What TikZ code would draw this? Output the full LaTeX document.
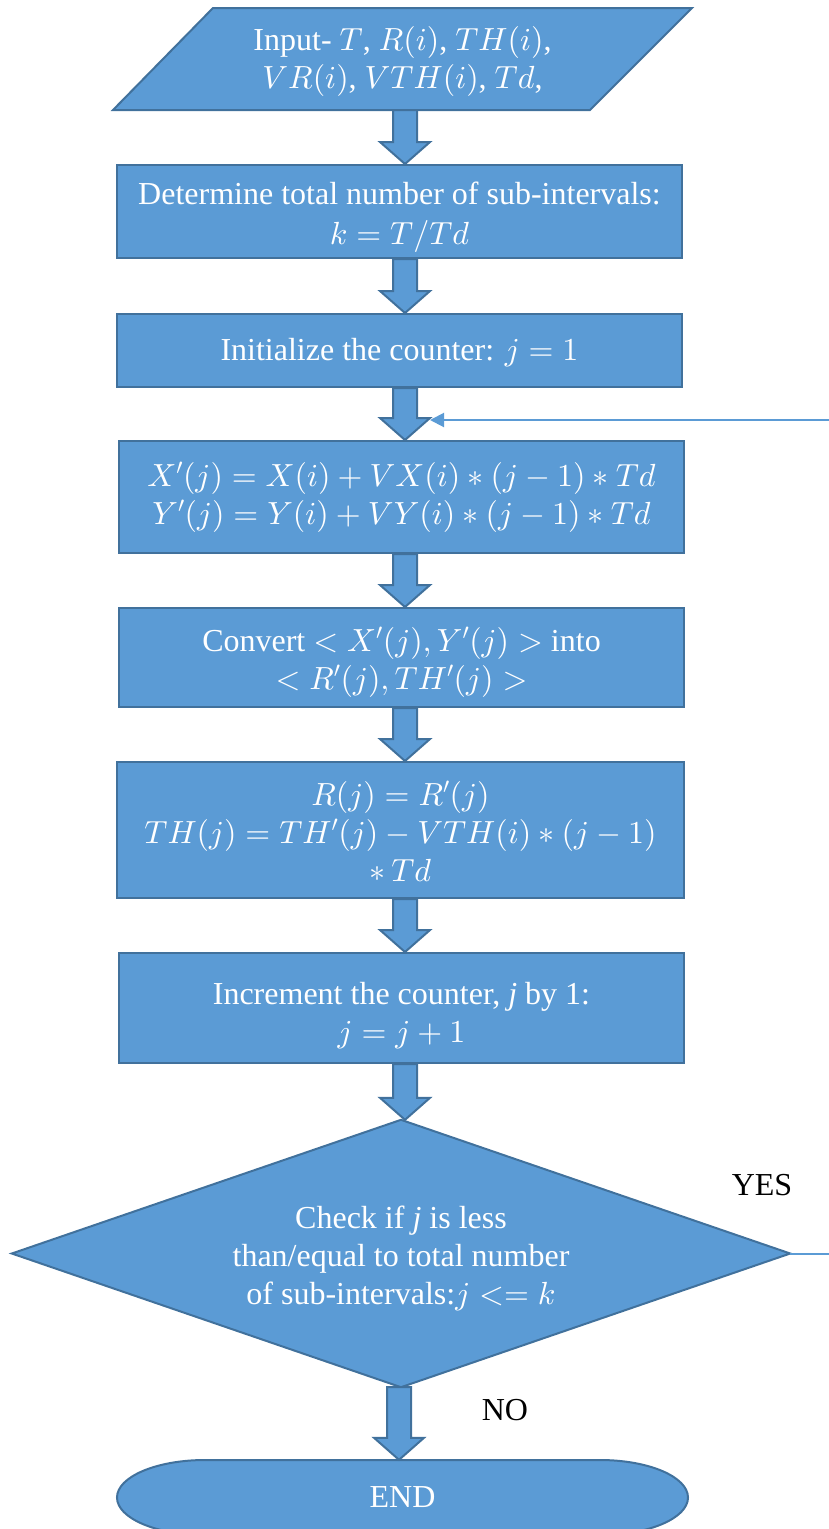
\documentclass[tikz,border=0pt]{standalone}
\usepackage{fontspec}
\setmainfont{Liberation Serif}
\usetikzlibrary{calc,arrows.meta}

% scalable Computer Modern math fonts for the large formula size
\DeclareFontShape{OML}{cmm}{m}{it}{<->cmmi10}{}
\DeclareFontShape{OMS}{cmsy}{m}{n}{<->cmsy10}{}
\DeclareFontShape{OT1}{cmr}{m}{n}{<->cmr10}{}

\definecolor{boxfill}{HTML}{5B9BD5}
\definecolor{boxline}{HTML}{41719C}

\tikzset{
  flowfont/.style={font=\fontsize{32}{38}\selectfont},
  flowbox/.style={draw=boxline, fill=boxfill, line width=2pt, rectangle,
    minimum width=565pt, inner sep=0pt},
  flowshape/.style={draw=boxline, fill=boxfill, line width=2pt, line join=miter},
  frame/.style={inner sep=0pt},
  flowtext/.style={text=white, align=center, inner sep=0pt, flowfont},
  blockarrow/.style={draw=boxline, fill=boxfill, line width=2pt, line join=miter},
  loopline/.style={draw=boxfill, line width=2pt,
    -{Triangle[length=14pt,width=14pt]}},
  answer/.style={text=black, inner sep=0pt, flowfont},
}

% wide block arrow from the bottom of #1 to the top of #2, shifted by #3 in x
\newcommand\flowarrow[3]{%
  \path[blockarrow] let \p1=($(#1.south)+(#3,0)$), \p2=($(#2.north)+(#3,0)$) in
    (\x1-12pt,\y1) -- (\x1+12pt,\y1) -- (\x1+12pt,\y2+22pt) -- (\x1+25pt,\y2+22pt)
    -- (\x1,\y2) -- (\x1-25pt,\y2+22pt) -- (\x1-12pt,\y2+22pt) -- cycle;}

\begin{document}
\begin{tikzpicture}[x=1pt,y=-1pt]
\useasboundingbox (0,0) rectangle (828,1529);

% input parallelogram
\node[frame, minimum width=377pt, minimum height=102pt] (input) at (402.5,59) {};
\path[flowshape] (213,8) -- (692,8) -- (590,110) -- (113,110) -- cycle;
\node[flowtext] (inputtext) at ($(input.center)+(0,2)$)
  {Input- $T$, $R(i)$, $TH(i)$,\\ $VR(i)$, $VTH(i)$, $Td$,};

% process boxes
\node[flowbox, minimum height=93pt] (total) at (399.5,211.5) {};
\node[flowtext] (totaltext) at ($(total.center)+(0,6)$)
  {Determine total number of sub-intervals:\\[2pt] $k = T/Td$};

\node[flowbox, minimum height=73pt] (init) at (399.5,350.5) {};
\node[flowtext] (inittext) at ($(init.center)+(0,2)$)
  {Initialize the counter: $j = 1$};

\node[flowbox, minimum height=112pt] (xy) at (401.5,497) {};
\node[flowtext] (xytext) at (xy.center)
  {$X'(j) = X(i) + VX(i) \ast (j-1) \ast Td$\\
   $Y'(j) = Y(i) + VY(i) \ast (j-1) \ast Td$};

\node[flowbox, minimum height=99pt] (convert) at (401.5,657.5) {};
\node[flowtext] (converttext) at ($(convert.center)+(0,5)$)
  {Convert $< X'(j), Y'(j) >$ into\\ $< R'(j), TH'(j) >$};

\node[flowbox, minimum width=567pt, minimum height=136pt] (rth) at (400.5,830) {};
\node[flowtext] (rthtext) at ($(rth.center)+(0,1)$)
  {$R(j) = R'(j)$\\ $TH(j) = TH'(j) - VTH(i) \ast (j-1)$\\ $\ast\, Td$};

\node[flowbox, minimum height=110pt] (incr) at (401.5,1008) {};
\node[flowtext] (incrtext) at ($(incr.center)+(0,7)$)
  {Increment the counter, \textit{j} by 1:\\ $j = j + 1$};

% decision: the diamond runs through the four side anchors of its node
\node[frame, minimum width=778pt, minimum height=267pt] (check) at (401,1253.5) {};
\path[flowshape] (check.north) -- (check.east) -- (check.south) -- (check.west) -- cycle;
\node[flowtext] (checktext) at ($(check.center)+(0,5)$)
  {Check if \textit{j} is less\\ than/equal to total number\\ of sub-intervals:$j <= k$};

% terminator
\node[frame, minimum width=571pt, minimum height=75pt] (stop) at (402.5,1497.5) {};
\path[flowshape] (205,1460) -- (600,1460)
  arc[start angle=-90, end angle=90, x radius=88, y radius=37.5]
  -- (205,1535)
  arc[start angle=90, end angle=270, x radius=88, y radius=37.5] -- cycle;
\node[flowtext] (stoptext) at (stop.center) {END};

% block arrows
\flowarrow{input}{total}{2.5}
\flowarrow{total}{init}{5.5}
\flowarrow{init}{xy}{5.5}
\flowarrow{xy}{convert}{3.5}
\flowarrow{convert}{rth}{3.5}
\flowarrow{rth}{incr}{4.5}
\flowarrow{incr}{check}{3.5}
\flowarrow{check}{stop}{-2}

% loop back for the YES branch
\coordinate (loopin) at (430,420);
\draw[loopline] (check.east) -- ++(80,0) |- (loopin);

% branch labels
\node[answer] (yes) at (762,1185) {YES};
\node[answer] (no) at (505,1410) {NO};
\end{tikzpicture}
\end{document}
